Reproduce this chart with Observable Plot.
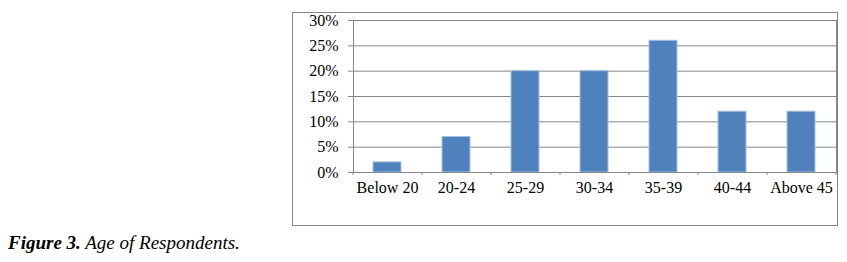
<!DOCTYPE html>
<html>
<head>
<meta charset="utf-8">
<script src="https://cdn.jsdelivr.net/npm/d3@7"></script>
<script src="https://cdn.jsdelivr.net/npm/@observablehq/plot@0.6"></script>
<style>
  html, body { margin: 0; padding: 0; background: #fff; }
  body { position: relative; width: 847px; height: 262px; overflow: hidden; }
  #box {
    position: absolute; left: 292px; top: 12px;
    width: 546px; height: 214px; box-sizing: border-box;
    border: 1px solid #868686;
  }
  #box svg text { fill: #000; }
  #caption {
    position: absolute; left: 8px; top: 232px;
    font-family: "Liberation Serif", "Times New Roman", serif;
    font-size: 19px; font-style: italic; color: #000; white-space: nowrap;
  }
</style>
</head>
<body>
<div id="box"></div>
<div id="caption"><b>Figure 3.</b> Age of Respondents.</div>
<script>
const categories = ["Below 20", "20-24", "25-29", "30-34", "35-39", "40-44", "Above 45"];
const percents = [2, 7, 20, 20, 26, 12, 12];
const yTicks = [0, 0.05, 0.10, 0.15, 0.20, 0.25, 0.30];

const data = categories.map((c, i) => ({category: c, share: percents[i] / 100}));

const W = 544, H = 212, mL = 60, mR = 1;
const halfStep = (W - mL - mR) / categories.length / 2;

const plot = Plot.plot({
  width: W,
  height: H,
  marginLeft: mL,
  marginRight: mR,
  marginTop: 7,
  marginBottom: 53,
  style: {fontFamily: "'Liberation Serif', 'Times New Roman', serif", fontSize: "16px", color: "#868686", background: "transparent"},
  x: {domain: categories, paddingInner: 0.594, paddingOuter: 0.297, label: null, tickSize: 0, tickPadding: 9},
  y: {domain: [0, 0.30], ticks: yTicks, tickFormat: d3.format(".0%"), label: null, tickSize: 5, tickPadding: 10},
  marks: [
    Plot.ruleY(yTicks, {stroke: "#868686"}),
    Plot.barY(data, {x: "category", y: "share", fill: "#4f81bd", stroke: "#a9c0de", strokeWidth: 1}),
    Plot.ruleX(categories, {x: d => d, y1: 0, y2: -0.006, dx: -halfStep, stroke: "#868686"}),
    Plot.ruleX(categories.slice(-1), {x: d => d, y1: 0, y2: -0.006, dx: halfStep, stroke: "#868686"}),
    Plot.frame({stroke: "#868686"})
  ]
});
document.getElementById("box").appendChild(plot);
</script>
</body>
</html>
